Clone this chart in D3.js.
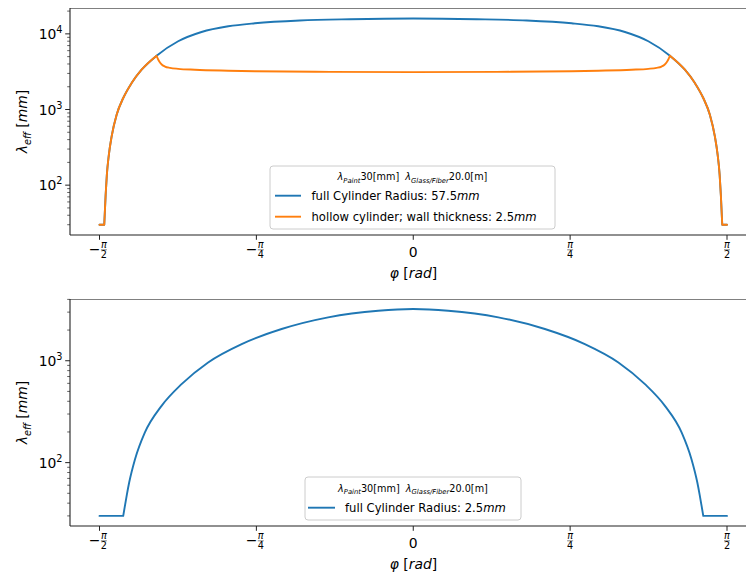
<!DOCTYPE html>
<html><head><meta charset="utf-8">
<script src="https://cdn.jsdelivr.net/npm/d3@7/dist/d3.min.js"></script>
<style>
body{margin:0;background:#fff}
svg{display:block}
text{font-family:"DejaVu Sans",sans-serif;fill:#000}
</style>
</head><body>
<svg id="c" width="746" height="576"></svg>
<script>
// ---- data ----
const phiFull57 = [-1.5708,-1.547,-1.540,-1.534,-1.524,-1.510,-1.485,-1.452,-1.410,-1.360,-1.285,-1.177,-1.060,-0.926,-0.793,-0.568,-0.317,0,
                   0.317,0.568,0.793,0.926,1.060,1.177,1.285,1.360,1.410,1.452,1.485,1.510,1.524,1.534,1.540,1.547,1.5708];
const valFull57 = [30,30,74.5,137,252,442,853,1419,2239,3357,5140,7980,10590,12590,13800,15030,15630,15970,
                   15630,15030,13800,12590,10590,7980,5140,3357,2239,1419,853,442,252,137,74.5,30,30];
const phiHollow = [-1.5708,-1.547,-1.540,-1.534,-1.524,-1.510,-1.485,-1.452,-1.410,-1.360,-1.285,-1.277,-1.268,-1.258,-1.243,-1.218,-1.177,-1.093,-0.926,-0.793,-0.417,0,
                   0.417,0.793,0.926,1.093,1.177,1.218,1.243,1.258,1.268,1.277,1.285,1.360,1.410,1.452,1.485,1.510,1.524,1.534,1.540,1.547,1.5708];
const valHollow = [30,30,74.5,137,252,442,853,1419,2239,3357,5140,4580,4180,3910,3700,3556,3450,3357,3258,3200,3143,3121,
                   3143,3200,3258,3357,3450,3556,3700,3910,4180,4580,5140,3357,2239,1419,853,442,252,137,74.5,30,30];
const phiFull25 = [-1.5708,-1.452,-1.444,-1.434,-1.422,-1.393,-1.344,-1.260,-1.160,-1.027,-0.859,-0.659,-0.426,-0.175,0,
                   0.175,0.426,0.659,0.859,1.027,1.160,1.260,1.344,1.393,1.422,1.434,1.444,1.452,1.5708];
const valFull25 = [30,30,37.2,48.3,64.1,108,197,361,589,963,1458,2049,2667,3097,3220,
                   3097,2667,2049,1458,963,589,361,197,108,64.1,48.3,37.2,30,30];

const xTickVals = [-Math.PI/2, -Math.PI/4, 0, Math.PI/4, Math.PI/2];
const xTickLabels = [{sign:"−",num:"π",den:"2"},{sign:"−",num:"π",den:"4"},{plain:"0"},{sign:"",num:"π",den:"4"},{sign:"",num:"π",den:"2"}];
const legendTitle = [["λ",{it:1}],["Paint",{it:1,sub:1}],["30[mm]\u00a0\u00a0",{}],["λ",{it:1}],["Glass/Fiber",{it:1,sub:1}],["20.0[m]",{}]];
const seriesTopLabels = [
  [["full Cylinder Radius: 57.5",{}],["mm",{it:1}]],
  [["hollow cylinder; wall thickness: 2.5",{}],["mm",{it:1}]]
];
const seriesBottomLabels = [[["full Cylinder Radius: 2.5",{}],["mm",{it:1}]]];
const colors = ["#1f77b4","#ff7f0e"];

// ---- layout ----
const svg = d3.select("#c");
const axLeft = 70, axRight = 757;
const x = d3.scaleLinear().domain([-Math.PI/2, Math.PI/2]).range([99.5, 727]);

function rich(textSel, runs, baseSize){
  let shifted = 0;
  runs.forEach(([t,o])=>{
    const ts = textSel.append("tspan").text(t);
    if(o.it) ts.attr("font-style","italic");
    let target = 0, size = baseSize;
    if(o.sub){ target = baseSize*0.28; size = baseSize*0.7; }
    if(o.sup){ target = -baseSize*0.42; size = baseSize*0.7; }
    ts.attr("font-size", size);
    if(target !== shifted){ ts.attr("dy", target - shifted); shifted = target; }
  });
}

// split a polyline at sharp corners (flat->steep and cusps) so the smooth curve keeps them sharp
function pieces(pts){
  const out = []; let cur = [pts[0]];
  for(let i=1;i<pts.length;i++){
    cur.push(pts[i]);
    if(i<pts.length-1){
      const sl = (pts[i][1]-pts[i-1][1])/(pts[i][0]-pts[i-1][0]);
      const sr = (pts[i+1][1]-pts[i][1])/(pts[i+1][0]-pts[i][0]);
      if(sl*sr<=0 && (Math.abs(sl)>0.5 || Math.abs(sr)>0.5)){ out.push(cur); cur=[pts[i]]; }
    }
  }
  out.push(cur);
  return out;
}

function panel(cfg){
  const g = svg.append("g");
  const y = d3.scaleLog().domain(cfg.ydom).range([cfg.bottom, cfg.top]);
  const clipId = "clip"+cfg.top;
  svg.append("clipPath").attr("id",clipId).append("rect")
    .attr("x",axLeft).attr("y",cfg.top).attr("width",axRight-axLeft).attr("height",cfg.bottom-cfg.top);

  // lines
  const line = d3.line().curve(d3.curveMonotoneX);
  cfg.series.forEach((s,i)=>{
    const pts = d3.zip(s.phi,s.val).map(d=>[x(d[0]), y(d[1])]);
    const dstr = pieces(pts).map(p=>line(p)).join("");
    g.append("path").attr("d",dstr).attr("fill","none").attr("stroke",colors[i])
      .attr("stroke-width",1.9).attr("stroke-linejoin","round").attr("stroke-linecap","round")
      .attr("clip-path",`url(#${clipId})`);
  });

  // spines
  g.append("line").attr("x1",axLeft).attr("x2",axRight).attr("y1",cfg.top+0.5).attr("y2",cfg.top+0.5)
    .attr("stroke","#808080").attr("stroke-width",1.1);
  g.append("line").attr("x1",axLeft).attr("x2",axRight).attr("y1",cfg.bottom).attr("y2",cfg.bottom)
    .attr("stroke","#222").attr("stroke-width",1.1);
  g.append("line").attr("x1",axLeft).attr("x2",axLeft).attr("y1",cfg.top).attr("y2",cfg.bottom)
    .attr("stroke","#222").attr("stroke-width",1.1);

  // x ticks
  xTickVals.forEach((v,i)=>{
    const px = x(v), lab = xTickLabels[i];
    g.append("line").attr("x1",px).attr("x2",px).attr("y1",cfg.bottom).attr("y2",cfg.bottom+4.8)
      .attr("stroke","#222").attr("stroke-width",1);
    if(lab.plain){
      g.append("text").attr("x",px).attr("y",cfg.bottom+22).attr("text-anchor","middle")
        .attr("font-size",13.9).text(lab.plain);
    } else {
      const fx = lab.sign ? px+4.4 : px;
      if(lab.sign){
        g.append("text").attr("x",fx-3.5).attr("y",cfg.bottom+19.2).attr("text-anchor","end")
          .attr("font-size",13.9).text(lab.sign);
      }
      g.append("text").attr("x",fx).attr("y",cfg.bottom+13.2).attr("text-anchor","middle")
        .attr("font-size",9.7).attr("font-style","italic").text(lab.num);
      g.append("line").attr("x1",fx-3).attr("x2",fx+3).attr("y1",cfg.bottom+14.8).attr("y2",cfg.bottom+14.8)
        .attr("stroke","#333").attr("stroke-width",0.6);
      g.append("text").attr("x",fx).attr("y",cfg.bottom+23).attr("text-anchor","middle")
        .attr("font-size",9.7).text(lab.den);
    }
  });

  // y ticks (log)
  const [lo,hi] = cfg.ydom;
  for(let e=Math.floor(Math.log10(lo)); e<=Math.ceil(Math.log10(hi)); e++){
    for(let m=1;m<10;m++){
      const v = m*Math.pow(10,e);
      if(v<lo || v>hi) continue;
      const py = y(v);
      const major = m===1;
      g.append("line").attr("x1",axLeft).attr("x2",axLeft-(major?4.8:2.8)).attr("y1",py).attr("y2",py)
        .attr("stroke","#222").attr("stroke-width",major?1:0.7);
      if(major){
        const t = g.append("text").attr("x",axLeft-7.5).attr("y",py+5).attr("text-anchor","end").attr("font-size",13.9);
        rich(t,[["10",{}],[String(e),{sup:1}]],13.9);
      }
    }
  }

  // axis labels
  const xl = g.append("text").attr("x",(axLeft+axRight)/2).attr("y",cfg.bottom+43).attr("text-anchor","middle").attr("font-size",13.9);
  rich(xl,[["φ",{it:1}],["\u00a0[",{}],["rad",{it:1}],["]",{}]],13.9);
  const yl = g.append("text").attr("transform",`translate(27,${(cfg.top+cfg.bottom)/2}) rotate(-90)`)
    .attr("text-anchor","middle").attr("font-size",13.9);
  rich(yl,[["λ",{it:1}],["eff",{it:1,sub:1}],["\u00a0[",{}],["mm",{it:1}],["]",{}]],13.9);

  // legend
  const L = cfg.legend;
  g.append("rect").attr("x",L.x0).attr("y",L.y0).attr("width",L.x1-L.x0).attr("height",L.y1-L.y0)
    .attr("rx",3).attr("fill","#fff").attr("fill-opacity",0.8).attr("stroke","#cccccc").attr("stroke-width",1);
  const tt = g.append("text").attr("x",(L.x0+L.x1)/2).attr("y",L.titleY).attr("text-anchor","middle").attr("font-size",9.7);
  rich(tt,legendTitle,9.7);
  L.labels.forEach((lab,i)=>{
    const ly = L.rowY[i];
    g.append("line").attr("x1",L.hx0).attr("x2",L.hx1).attr("y1",ly).attr("y2",ly)
      .attr("stroke",colors[i]).attr("stroke-width",1.9);
    const t = g.append("text").attr("x",L.tx).attr("y",ly+4.2).attr("font-size",11.6);
    rich(t,lab,11.6);
  });
}

panel({
  top:8, bottom:235, ydom:[Math.pow(10,1.341), Math.pow(10,4.342)],
  series:[{phi:phiFull57,val:valFull57},{phi:phiHollow,val:valHollow}],
  legend:{x0:270,x1:555,y0:166,y1:229,titleY:180,rowY:[195.7,216.7],hx0:275,hx1:301,tx:311.5,labels:seriesTopLabels}
});
panel({
  top:299, bottom:526, ydom:[Math.pow(10,1.378), Math.pow(10,3.606)],
  series:[{phi:phiFull25,val:valFull25}],
  legend:{x0:305,x1:521,y0:477,y1:520,titleY:491.5,rowY:[507.7],hx0:308,hx1:335,tx:345,labels:seriesBottomLabels}
});
</script>
</body></html>
